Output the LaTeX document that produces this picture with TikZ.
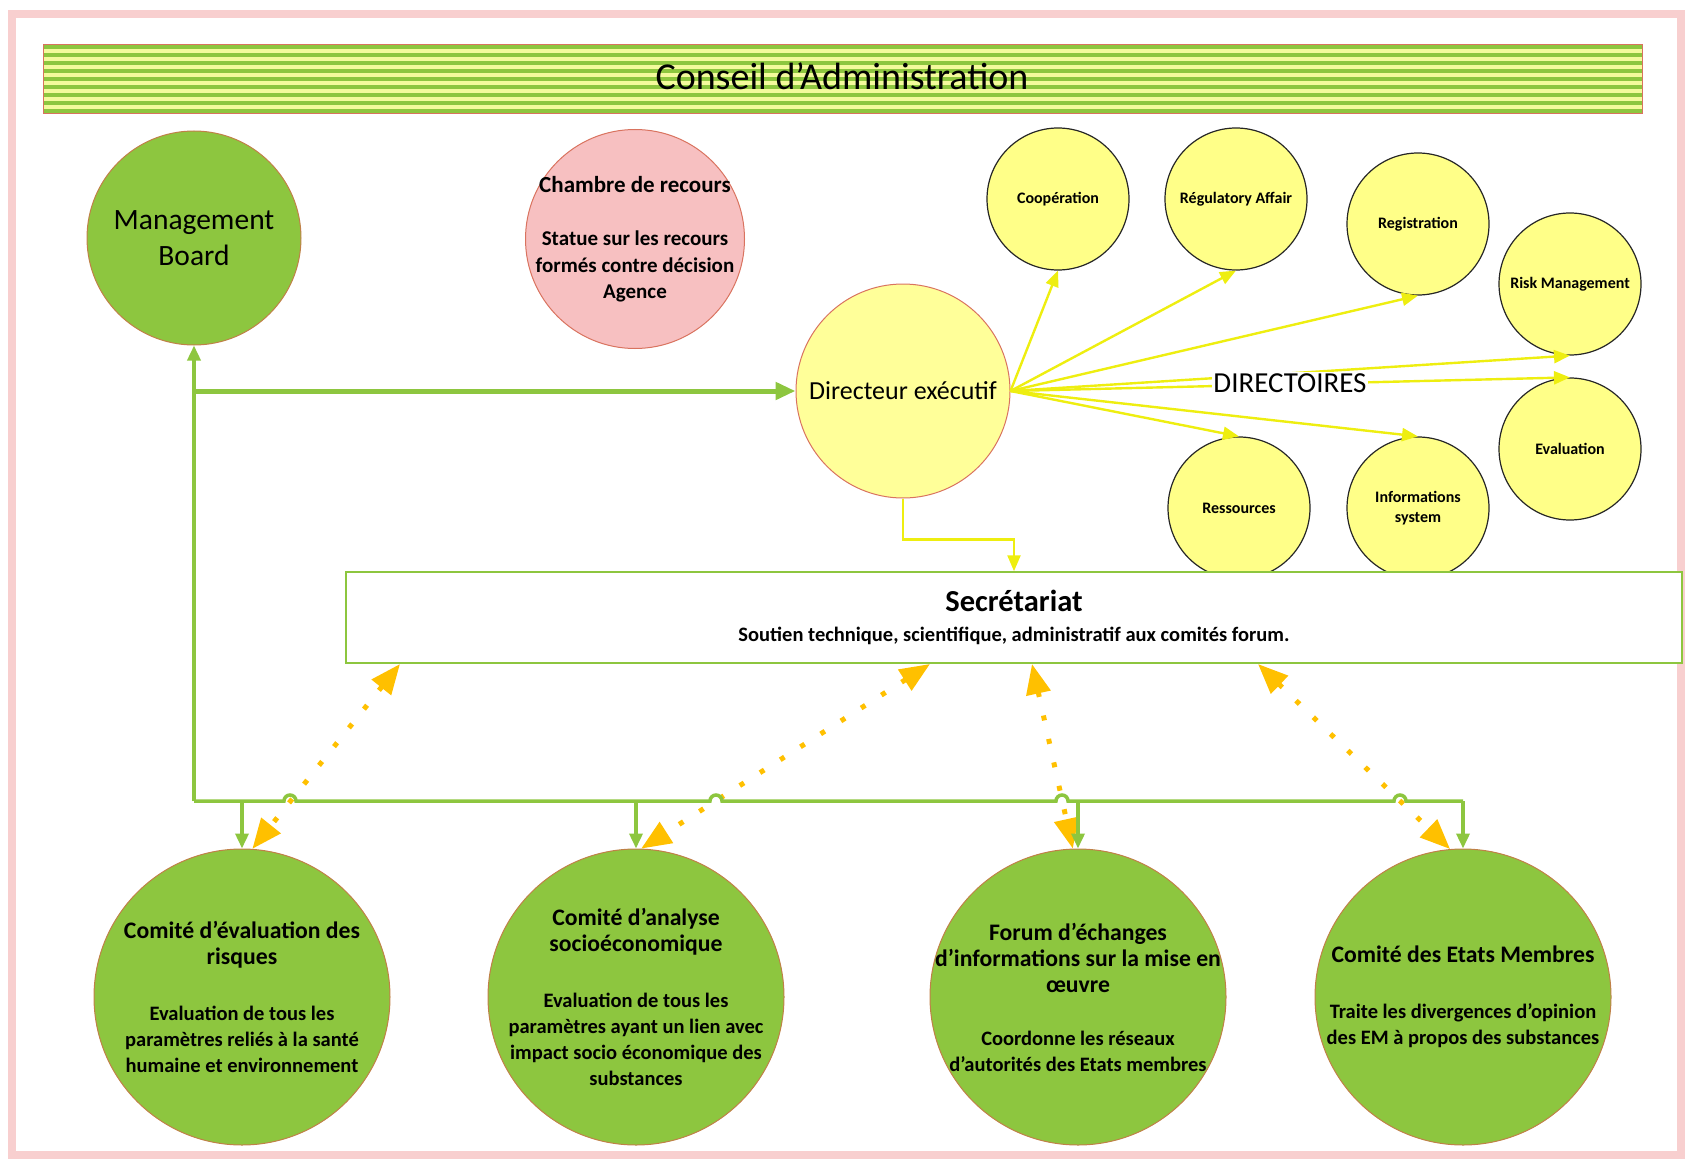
\documentclass[tikz,border=0pt]{standalone}
\usepackage{fontspec}
\setmainfont{Carlito}
\usetikzlibrary{arrows.meta}

\definecolor{leafgreen}{HTML}{8DC63F}
\definecolor{paleyellow}{HTML}{FFFF99}
\definecolor{lemon}{HTML}{FFFF88}
\definecolor{stripeyellow}{HTML}{F4FA9C}
\definecolor{rosefill}{HTML}{F7C0C1}
\definecolor{rimred}{HTML}{D9735F}
\definecolor{rimbrown}{HTML}{C08048}
\definecolor{amber}{HTML}{FFC000}
\definecolor{framepink}{HTML}{F8CFCF}
\definecolor{arrowyellow}{HTML}{EEEE10}

\newcommand{\fsz}[2]{\fontsize{#1}{#2}\selectfont}

\begin{document}
\begin{tikzpicture}[x=1pt, y=-1pt, line width=1pt,
    greenball/.style={circle, fill=leafgreen, draw=rimbrown, inner sep=-30pt, align=center},
    yelball/.style={circle, fill=paleyellow, draw=rimred, inner sep=-20pt, align=center},
    pinkball/.style={circle, fill=rosefill, draw=rimred, inner sep=-20pt, align=center},
    dirball/.style={circle, fill=lemon, draw=black!85, line width=1.2pt, minimum size=142pt, inner sep=-10pt, align=center, font=\bfseries\fsz{16}{20}},
    committee/.style={greenball, minimum size=296pt, font=\bfseries\fsz{20.5}{26}},
    greenlink/.style={leafgreen, line width=3.5pt},
    greentip/.style={-{Triangle[length=15pt,width=13pt]}},
    yellink/.style={draw=arrowyellow, line width=2.4pt, -{Triangle[length=16pt,width=13pt]}},
    dotlink/.style={amber, line width=5pt, dash pattern=on 5pt off 19pt, {Triangle[length=30pt,width=24pt]}-{Triangle[length=30pt,width=24pt]}}]

\useasboundingbox (0,0) rectangle (1686,1161);
\draw[framepink, line width=8pt] (12,14) rectangle (1681,1155);

% bandeau du conseil
\fill[stripeyellow] (43,45) rectangle (1642,114);
\foreach \y in {45,53,...,109}
    \fill[leafgreen] (43,\y) rectangle (1642,\y+4.5);
\draw[rimred] (43,45) rectangle (1642,114);
\node[font=\fsz{38}{40}] (ca) at (842,76) {Conseil d’Administration};

\node[greenball, minimum size=214pt, font=\fsz{29.5}{36}] (mb) at (194,238) {Management\\Board};
\node[pinkball, minimum size=219pt, font=\bfseries\fsz{21}{26.5}] (cr) at (635,239) {{\fsz{23}{26.5}Chambre de recours}\\[27pt]Statue sur les recours\\formés contre décision\\Agence};
\node[yelball, minimum size=214pt, font=\fsz{26}{30}] (de) at (903,391) {Directeur exécutif};

\node[dirball] (coop) at (1058,199) {Coopération};
\node[dirball] (reg) at (1236,199) {Régulatory Affair};
\node[dirball] (regi) at (1418,224) {Registration};
\node[dirball] (risk) at (1570,284) {Risk Management};
\node[dirball] (eval) at (1570,449) {Evaluation};
\node[dirball] (res) at (1239,508) {Ressources};
\node[dirball] (info) at (1418,508) {Informations\\system};

\foreach \n/\a in {coop/south, reg/south, regi/south, risk/south, eval/north, res/north, info/north}
    \draw[yellink] (de.east) -- (\n.\a);
\node[fill=white, inner sep=1pt, font=\fsz{29}{30}] (dirs) at (1290,383) {DIRECTOIRES};

\node[draw=leafgreen, line width=1.5pt, fill=white, minimum width=1336pt, minimum height=91pt, align=center, font=\bfseries\fsz{20.5}{30}] (sec) at (1014,617.5)
    {{\fsz{30.5}{30}Secrétariat}\\Soutien technique, scientifique, administratif aux comités forum.};
\draw[yellink] (de.south) -- ++(0,41) -| (sec.north);

\node[committee] (c1) at (242,997) {{\fsz{23.7}{26}Comité d’évaluation des}\\{\fsz{23.7}{26}risques}\\[30pt]Evaluation de tous les\\paramètres reliés à la santé\\humaine et environnement};
\node[committee] (c2) at (636,997) {{\fsz{23.7}{26}Comité d’analyse}\\{\fsz{23.7}{26}socioéconomique}\\[30pt]Evaluation de tous les\\paramètres ayant un lien avec\\impact socio économique des\\substances};
\node[committee] (c3) at (1078,997) {{\fsz{23.7}{26}Forum d’échanges}\\{\fsz{23.7}{26}d’informations sur la mise en}\\{\fsz{23.7}{26}œuvre}\\[27pt]Coordonne les réseaux\\d’autorités des Etats membres};
\node[committee] (c4) at (1463,997) {{\fsz{23.7}{26}Comité des Etats Membres}\\[30pt]Traite les divergences d’opinion\\des EM à propos des substances};

% liens secretariat -- comites
\coordinate (s1) at (400,664);
\coordinate (s2) at (930,664);
\coordinate (s3) at (1032,664);
\coordinate (s4) at (1258,664);
\draw[dotlink] (s1) -- (c1.86);
\draw[dotlink] (s2) -- (c2.88);
\draw[dotlink] (s3) -- (c3.92);
\draw[dotlink] (s4) -- (c4.95);

% management board et bus
\coordinate (busL) at (194,801);
\draw[greenlink, greentip] (busL) -- (mb);
\draw[greenlink, line width=5pt, -{Triangle[length=20pt,width=17pt]}] (busL |- de) -- (de);
\draw[greenlink] (busL) -- (284,801) arc[start angle=180, end angle=360, radius=6]
    -- (710,801) arc[start angle=180, end angle=360, radius=6]
    -- (1056,801) arc[start angle=180, end angle=360, radius=6]
    -- (1394,801) arc[start angle=180, end angle=360, radius=6]
    -- (c4 |- busL);
\foreach \c in {c1, c2, c3, c4}
    \draw[greenlink, greentip] (\c |- busL) -- (\c);
\end{tikzpicture}
\end{document}
